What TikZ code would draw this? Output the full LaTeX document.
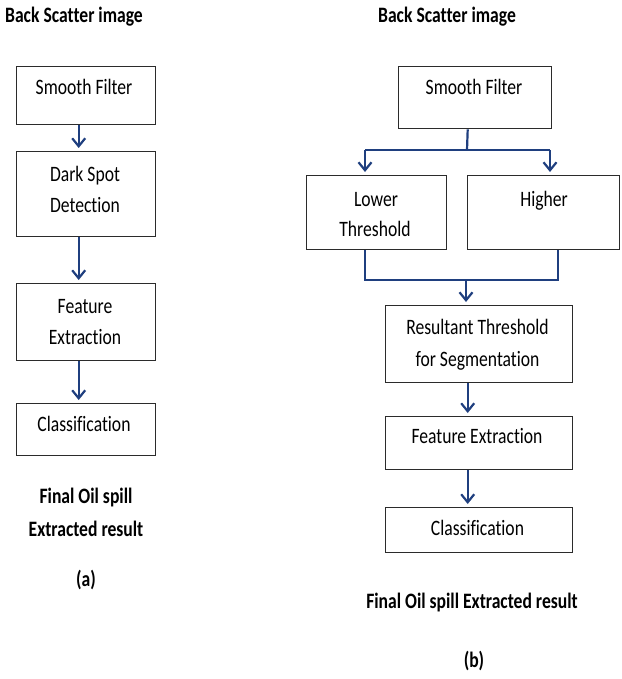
\documentclass[tikz,border=0pt]{standalone}
\usepackage{fontspec}
\setmainfont[FakeStretch=0.8,Ligatures=NoCommon]{Carlito}
\usetikzlibrary{arrows.meta}
\definecolor{arrblue}{HTML}{1F3F7F}
\definecolor{boxline}{HTML}{2B2B2B}
\begin{document}
\begin{tikzpicture}[x=1pt,y=-1pt,
  box/.style={draw=boxline, line width=1.4pt, anchor=north west, inner sep=0pt},
  txt/.style={font=\fontsize{22}{30}\selectfont, anchor=base, inner sep=0pt},
  btxt/.style={font=\fontsize{22}{30}\selectfont\bfseries, anchor=base, inner sep=0pt},
  ln/.style={draw=arrblue, line width=2.2pt},
  arr/.style={ln, -{Straight Barb[length=8pt,width=13pt]}, shorten >=3pt}]
\useasboundingbox (0,0) rectangle (621,679);

% ---------- (a) ----------
\node[btxt] (ta) at (74,23) {Back Scatter image};
\node[box, minimum width=139pt, minimum height=58pt] (a1) at (16,66) {};
\node[box, minimum width=139pt, minimum height=85pt] (a2) at (16,151) {};
\node[box, minimum width=139pt, minimum height=77pt] (a3) at (16,283) {};
\node[box, minimum width=139pt, minimum height=52pt] (a4) at (16,403) {};
\node[txt] (a1t) at (84,95) {Smooth Filter};
\node[txt] (a2t) at (85,182) {Dark Spot};
\node[txt] (a2u) at (85,212) {Detection};
\node[txt] (a3t) at (85,313) {Feature};
\node[txt] (a3u) at (85,344) {Extraction};
\node[txt] (a4t) at (84,431) {Classification};
\node[btxt] (af1) at (86,503) {Final Oil spill};
\node[btxt] (af2) at (86,536) {Extracted result};
\node[btxt] (la) at (86,586) {(a)};
\draw[arr] ([xshift=-7.5pt]a1.south) -- ([xshift=-7.5pt]a2.north);
\draw[arr] ([xshift=-7.5pt]a2.south) -- ([xshift=-7.5pt]a3.north);
\draw[arr] ([xshift=-7.5pt]a3.south) -- ([xshift=-7.5pt]a4.north);

% ---------- (b) ----------
\node[btxt] (tb) at (447,23) {Back Scatter image};
\node[box, minimum width=153pt, minimum height=62pt] (b1) at (398,66) {};
\node[box, minimum width=140pt, minimum height=74pt] (b2) at (306,175) {};
\node[box, minimum width=152pt, minimum height=74pt] (b3) at (467,175) {};
\node[box, minimum width=187pt, minimum height=77pt] (b4) at (385,305) {};
\node[box, minimum width=187pt, minimum height=53pt] (b5) at (385,416) {};
\node[box, minimum width=187pt, minimum height=45pt] (b6) at (385,507) {};
\node[txt] (b1t) at (474,95) {Smooth Filter};
\node[txt] (b2t) at (376,206) {Lower};
\node[txt] (b2u) at (375,236) {Threshold};
\node[txt] (b3t) at (544,206) {Higher};
\node[txt] (b4t) at (477.5,334) {Resultant Threshold};
\node[txt] (b4u) at (477.5,366) {for Segmentation};
\node[txt] (b5t) at (477,443) {Feature Extraction};
\node[txt] (b6t) at (477.5,535) {Classification};
\node[btxt] (bf) at (472,608) {Final Oil spill Extracted result};
\node[btxt] (lb) at (474,667) {(b)};

\coordinate (j1) at (467,150);
\coordinate (jl) at (365,150);
\coordinate (jr) at (550,150);
\coordinate (kl) at (365,280);
\coordinate (kr) at (558,280);
\coordinate (km) at (466,280);
\draw[ln] ([xshift=-7.5pt]b1.south) -- (j1);
\draw[ln] (jl) -- (jr);
\draw[arr] (jl) -- (jl |- b2.north);
\draw[arr] (jr) -- (jr |- b3.north);
\draw[ln, line join=miter] (kl |- b2.south) -- (kl) -- (kr) -- (kr |- b3.south);
\draw[arr] (km) -- (km |- b4.north);
\draw[arr] ([xshift=-11.5pt]b4.south) -- ([xshift=-11.5pt]b5.north);
\draw[arr] ([xshift=-11.5pt]b5.south) -- ([xshift=-11.5pt]b6.north);
\end{tikzpicture}
\end{document}
